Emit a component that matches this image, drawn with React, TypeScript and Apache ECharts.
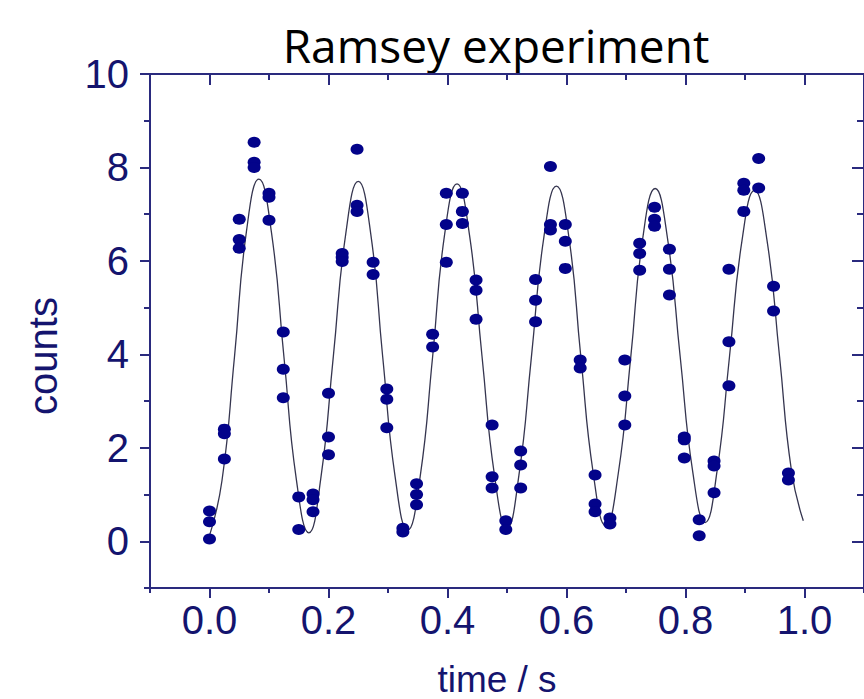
import React, { useEffect, useRef } from "react";
import * as echarts from "echarts";

const titleText = "Ramsey experiment";
const xAxisTitle = "time / s";
const yAxisTitle = "counts";

const xMajorTicks = [0, 0.2, 0.4, 0.6, 0.8, 1.0];
const xMinorTicks = [-0.1, 0.1, 0.3, 0.5, 0.7, 0.9, 1.1];
const yMajorTicks = [0, 2, 4, 6, 8, 10];
const yMinorTicks = [-1, 1, 3, 5, 7, 9];

// measured counts (time in s)
const pointTimes = [
  0, 0, 0,
  0.025, 0.025, 0.025,
  0.05, 0.05, 0.05,
  0.075, 0.075, 0.075,
  0.1, 0.1, 0.1,
  0.124, 0.124, 0.124,
  0.15, 0.15,
  0.174, 0.174, 0.174,
  0.2, 0.2, 0.2,
  0.223, 0.223, 0.223,
  0.248, 0.248, 0.248,
  0.275, 0.275,
  0.298, 0.298, 0.298,
  0.325, 0.325,
  0.348, 0.348, 0.348,
  0.375, 0.375,
  0.398, 0.398, 0.398,
  0.425, 0.425, 0.425,
  0.448, 0.448, 0.448,
  0.475, 0.475, 0.475,
  0.498, 0.498,
  0.523, 0.523, 0.523,
  0.548, 0.548, 0.548,
  0.573, 0.573, 0.573,
  0.598, 0.598, 0.598,
  0.623, 0.623,
  0.648, 0.648, 0.648,
  0.673, 0.673,
  0.698, 0.698, 0.698,
  0.723, 0.723, 0.723,
  0.748, 0.748, 0.748,
  0.773, 0.773, 0.773,
  0.798, 0.798, 0.798,
  0.823, 0.823,
  0.848, 0.848, 0.848,
  0.873, 0.873, 0.873,
  0.898, 0.898, 0.898,
  0.923, 0.923,
  0.948, 0.948,
  0.973, 0.973,
];
const pointCounts = [
  0.65, 0.42, 0.05,
  2.4, 2.3, 1.76,
  6.89, 6.46, 6.27,
  8.54, 8.11, 8.0,
  7.45, 7.36, 6.87,
  4.48, 3.68, 3.07,
  0.95, 0.25,
  1.01, 0.89, 0.63,
  3.17, 2.23, 1.85,
  6.16, 6.08, 5.99,
  8.39, 7.19, 7.06,
  5.97, 5.71,
  3.26, 3.04, 2.43,
  0.28, 0.2,
  1.23, 1.0, 0.78,
  4.43, 4.16,
  7.45, 6.78, 5.97,
  7.45, 7.06, 6.8,
  5.59, 5.37, 4.75,
  2.49, 1.38, 1.14,
  0.44, 0.25,
  1.93, 1.63, 1.14,
  5.6, 5.16, 4.7,
  8.02, 6.78, 6.66,
  6.78, 6.42, 5.84,
  3.88, 3.71,
  1.42, 0.8, 0.63,
  0.5, 0.37,
  3.88, 3.11, 2.49,
  6.38, 6.16, 5.8,
  7.15, 6.89, 6.74,
  6.25, 5.82, 5.27,
  2.23, 2.17, 1.78,
  0.46, 0.12,
  1.72, 1.61, 1.04,
  5.82, 4.27, 3.33,
  7.66, 7.51, 7.06,
  8.19, 7.56,
  5.46, 4.93,
  1.46, 1.31,
];

// fitted curve
const fitTimes = [
  0.0, 0.021, 0.042, 0.062, 0.083, 0.104, 0.125, 0.146,
  0.167, 0.187, 0.208, 0.229, 0.25, 0.271, 0.291, 0.312,
  0.333, 0.354, 0.375, 0.395, 0.416, 0.437, 0.458, 0.479,
  0.5, 0.52, 0.541, 0.562, 0.583, 0.604, 0.624, 0.645,
  0.666, 0.687, 0.708, 0.728, 0.749, 0.77, 0.791, 0.812,
  0.833, 0.853, 0.874, 0.895, 0.916, 0.937, 0.958, 0.978,
  0.998,
];
const fitCounts = [
  0.12, 1.3, 3.95, 6.62, 7.75, 6.62, 3.96, 1.32,
  0.18, 1.34, 3.94, 6.58, 7.7, 6.58, 3.96, 1.38,
  0.24, 1.38, 3.95, 6.55, 7.65, 6.55, 3.96, 1.41,
  0.28, 1.41, 3.94, 6.51, 7.6, 6.51, 3.96, 1.45,
  0.33, 1.45, 3.94, 6.47, 7.55, 6.46, 3.96, 1.5,
  0.4, 1.5, 3.96, 6.44, 7.51, 6.44, 3.96, 1.52,
  0.44,
];

const NAVY = "#14146e";
const AXIS = "#2a2a7e";
const DOT = "#03038a";

function xAxisDef(position: "top" | "bottom", ticks: number[], len: number, inside: boolean, labels: boolean, line: boolean) {
  return {
    type: "value",
    position,
    min: -0.1,
    max: 1.1,
    axisLine: { show: line, onZero: false, lineStyle: { color: AXIS, width: 2 } },
    axisTick: { show: true, inside, length: len, customValues: ticks, lineStyle: { color: AXIS, width: 2 } },
    axisLabel: labels
      ? {
          show: true,
          customValues: ticks,
          formatter: (v: number) => v.toFixed(1),
          color: NAVY,
          fontSize: 40,
          fontFamily: "Liberation Sans",
          margin: 12,
        }
      : { show: false },
    splitLine: { show: false },
  };
}

function yAxisDef(position: "left" | "right", ticks: number[], len: number, inside: boolean, labels: boolean, line: boolean) {
  return {
    type: "value",
    position,
    min: -1,
    max: 10,
    axisLine: { show: line, onZero: false, lineStyle: { color: AXIS, width: 2 } },
    axisTick: { show: true, inside, length: len, customValues: ticks, lineStyle: { color: AXIS, width: 2 } },
    axisLabel: labels
      ? {
          show: true,
          customValues: ticks,
          formatter: (v: number) => String(v),
          color: NAVY,
          fontSize: 40,
          fontFamily: "Liberation Sans",
          margin: 21,
        }
      : { show: false },
    splitLine: { show: false },
  };
}

export default function App() {
  const ref = useRef<HTMLDivElement>(null);

  useEffect(() => {
    if (!ref.current) return;
    const chart = echarts.init(ref.current, null, { renderer: "svg" });
    const scatterData = pointTimes.map((t, i) => [t, pointCounts[i]]);
    const fitData = fitTimes.map((t, i) => [t, fitCounts[i]]);
    chart.setOption({
      animation: false,
      backgroundColor: "#ffffff",
      grid: { left: 150, top: 74, right: -6, bottom: 111, containLabel: false },
      xAxis: [
        xAxisDef("bottom", xMajorTicks, 10, false, true, true),
        xAxisDef("bottom", xMinorTicks, 5, false, false, false),
        xAxisDef("top", xMajorTicks, 11, true, false, true),
        xAxisDef("top", xMinorTicks, 6, true, false, false),
      ],
      yAxis: [
        yAxisDef("left", yMajorTicks, 10, false, true, true),
        yAxisDef("left", yMinorTicks, 6, false, false, false),
        yAxisDef("right", yMajorTicks, 12, true, false, true),
        yAxisDef("right", yMinorTicks, 7, true, false, false),
      ],
      series: [
        {
          type: "line",
          name: "fit",
          xAxisIndex: 0,
          yAxisIndex: 0,
          data: fitData,
          smooth: 0.5,
          showSymbol: false,
          symbol: "none",
          lineStyle: { color: "#35354f", width: 1.3 },
          z: 2,
        },
        {
          type: "scatter",
          name: "counts",
          xAxisIndex: 0,
          yAxisIndex: 0,
          data: scatterData,
          symbol: "circle",
          symbolSize: [13, 11],
          itemStyle: { color: DOT, opacity: 1 },
          z: 3,
        },
      ],
      graphic: [
        {
          type: "text",
          x: 496,
          y: 45,
          style: {
            text: titleText,
            fill: "#000000",
            font: "46px 'Open Sans'",
            align: "center",
            verticalAlign: "middle",
          },
        },
        {
          type: "text",
          x: 43,
          y: 356,
          rotation: Math.PI / 2,
          style: {
            text: yAxisTitle,
            fill: NAVY,
            font: "40px 'Liberation Sans'",
            align: "center",
            verticalAlign: "middle",
          },
        },
        {
          type: "text",
          x: 497,
          y: 679,
          style: {
            text: xAxisTitle,
            fill: NAVY,
            font: "37px 'Liberation Sans'",
            align: "center",
            verticalAlign: "middle",
          },
        },
      ],
    });
    return () => chart.dispose();
  }, []);

  return (
    <div
      ref={ref}
      style={{ position: "fixed", left: 0, top: 0, width: 864, height: 699, background: "#fff" }}
    />
  );
}
